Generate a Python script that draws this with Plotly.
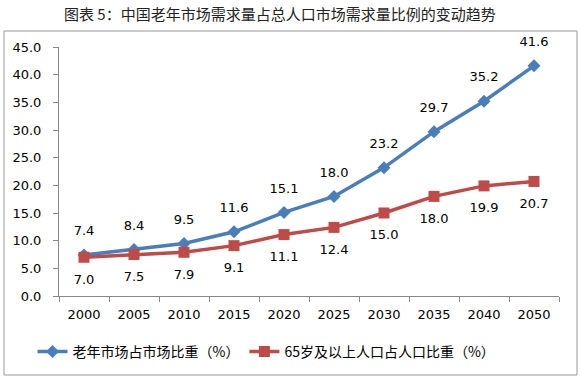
import plotly.graph_objects as go

years = ["2000", "2005", "2010", "2015", "2020", "2025", "2030", "2035", "2040", "2050"]
elder_market = [7.4, 8.4, 9.5, 11.6, 15.1, 18.0, 23.2, 29.7, 35.2, 41.6]
pop65 = [7.0, 7.5, 7.9, 9.1, 11.1, 12.4, 15.0, 18.0, 19.9, 20.7]
y_ticks = [0, 5, 10, 15, 20, 25, 30, 35, 40, 45]

BLUE = "#4A7EBB"
RED = "#BE4B48"
NUM_FONT = "DejaVu Sans, Verdana, sans-serif"
CJK_FONT = "Noto Sans CJK SC, sans-serif"

fig = go.Figure()
fig.add_trace(go.Scatter(
    x=years, y=elder_market, mode="lines+markers",
    name="老年市场占市场比重（%）",
    line=dict(color=BLUE, width=3.5),
    marker=dict(symbol="diamond", size=10, color=BLUE),
))
fig.add_trace(go.Scatter(
    x=years, y=pop65, mode="lines+markers",
    name="65岁及以上人口占人口比重（%）",
    line=dict(color=RED, width=3.5),
    marker=dict(symbol="square", size=11, color=RED),
))
# data labels (transparent markers give the label offset)
fig.add_trace(go.Scatter(
    x=years, y=elder_market, mode="markers+text", showlegend=False, hoverinfo="skip",
    marker=dict(size=25, color="rgba(0,0,0,0)"),
    text=[f"{v:.1f}" for v in elder_market], textposition="top center",
    textfont=dict(family=NUM_FONT, size=13, color="#000000"), cliponaxis=False,
))
fig.add_trace(go.Scatter(
    x=years, y=pop65, mode="markers+text", showlegend=False, hoverinfo="skip",
    marker=dict(size=25, color="rgba(0,0,0,0)"),
    text=[f"{v:.1f}" for v in pop65], textposition="bottom center",
    textfont=dict(family=NUM_FONT, size=13, color="#000000"), cliponaxis=False,
))

fig.update_layout(
    width=580, height=381,
    margin=dict(l=59, r=21, t=47, b=85),
    paper_bgcolor="white", plot_bgcolor="white",
    showlegend=True,
    legend=dict(orientation="h", x=0.415, xanchor="center", y=-0.16, yanchor="top",
                font=dict(family=CJK_FONT, size=14, color="#000000"),
                itemwidth=30, tracegroupgap=0),
    xaxis=dict(type="category", tickson="boundaries", ticks="outside", ticklen=5,
               tickcolor="#888888", showline=True, linecolor="#888888", linewidth=1,
               showgrid=False, tickfont=dict(family=NUM_FONT, size=13, color="#000000"),
               range=[-0.5, 9.5], ticklabelstandoff=6),
    yaxis=dict(range=[0, 45], tickvals=y_ticks, ticktext=[f"{v:.1f}" for v in y_ticks],
               ticks="outside", ticklen=5, tickcolor="#888888", showline=True,
               linecolor="#888888", linewidth=1, showgrid=False, zeroline=False,
               tickfont=dict(family=NUM_FONT, size=13, color="#000000"),
               ticklabelstandoff=9),
    shapes=[dict(type="rect", xref="paper", yref="paper",
                 x0=(4 - 59) / 500, x1=(577 - 59) / 500,
                 y0=(296 - 375) / 249, y1=(296 - 31) / 249,
                 line=dict(color="#999999", width=1), fillcolor="rgba(0,0,0,0)", layer="below")],
    annotations=[dict(text="图表 5：中国老年市场需求量占总人口市场需求量比例的变动趋势",
                      xref="paper", yref="paper", x=(280 - 59) / 500, y=(296 - 13) / 249,
                      xanchor="center", yanchor="middle", showarrow=False,
                      font=dict(family=CJK_FONT, size=15, color="#222222"))],
)

fig.write_html("out.html", config={"displayModeBar": False},
               post_script="document.body.style.margin='0';")
